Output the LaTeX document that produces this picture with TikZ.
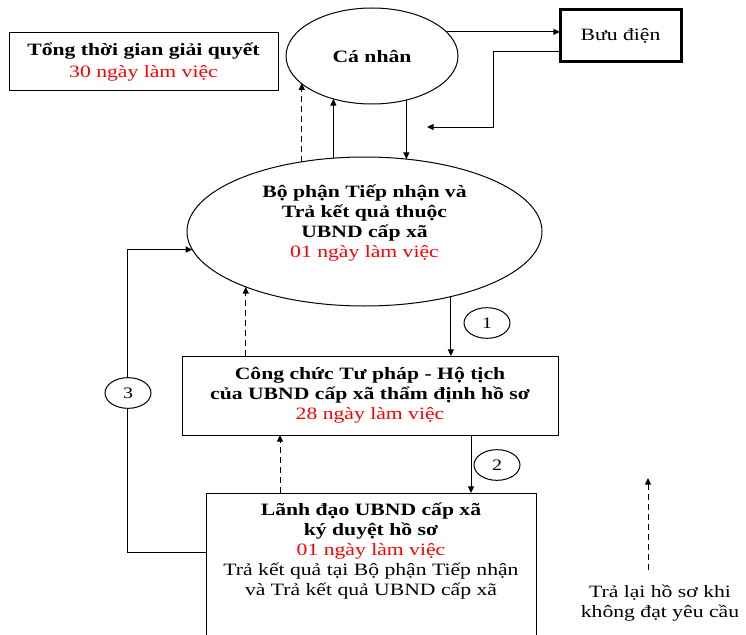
\documentclass[tikz,border=0pt]{standalone}
\usepackage{fontspec}
\setmainfont{Liberation Serif}[FakeStretch=1.25]
\usetikzlibrary{shapes.geometric,arrows.meta,calc}
\tikzset{
  base/.style={draw, line width=0.75pt, outer sep=0pt, inner sep=0pt, align=center, font=\fontsize{13}{15}\selectfont},
  boxr/.style={base, rectangle},
  ell/.style={base, ellipse},
  lbl/.style={align=center, inner sep=0pt, font=\fontsize{13}{15}\selectfont},
  num/.style={base, ellipse, fill=white, font=\fontsize{12}{14}\selectfont, minimum width=34.5pt, minimum height=23pt},
  conn/.style={line width=0.75pt, -{Triangle[length=5pt,width=4.5pt]}},
  back/.style={conn, dash pattern=on 4.5pt off 3pt},
  plain/.style={line width=0.75pt}
}
\begin{document}
\begin{tikzpicture}[x=0.75pt,y=-0.75pt]
\useasboundingbox (0,0) rectangle (746,635);
\clip (0,0) rectangle (746,635);
\fill[white] (0,0) rectangle (746,635);

% nodes
\node[boxr, minimum width=201.75pt, minimum height=43.5pt] (tong) at (143.5,62)
  {\textbf{Tổng thời gian giải quyết}\\[1pt]\textcolor{red}{30 ngày làm việc}};
\node[ell, minimum width=129pt, minimum height=72pt] (cn) at (372,56) {\textbf{Cá nhân}};
\node[boxr, line width=2.25pt, minimum width=90.75pt, minimum height=39pt] (bd) at (620.5,36) {Bưu điện};
\node[ell, minimum width=266.25pt, minimum height=111.75pt] (bp) at (364.5,231.5) {};
\node[lbl] (bpt) at (364.5,223) {\textbf{Bộ phận Tiếp nhận và}\\\textbf{Trả kết quả thuộc}\\\textbf{UBND cấp xã}\\\textcolor{red}{01 ngày làm việc}};
\node[boxr, minimum width=282pt, minimum height=59.25pt] (cs) at (370,395.5)
  {\textbf{Công chức Tư pháp - Hộ tịch}\\\textbf{của UBND cấp xã thẩm định hồ sơ}\\\textcolor{red}{28 ngày làm việc}};
\node[boxr, minimum width=247.5pt, minimum height=117.75pt] (ld) at (371,571.5) {};
\node[lbl] (ldt) at (371,551) {\textbf{Lãnh đạo UBND cấp xã}\\\textbf{ký duyệt hồ sơ}\\\textcolor{red}{01 ngày làm việc}\\Trả kết quả tại Bộ phận Tiếp nhận\\và Trả kết quả UBND cấp xã};

% connectors top
\draw[conn] (cn.18.8) -- (cn.18.8 -| bd.west);
\coordinate (ret) at (427,127);
\draw[conn] ($(bd.south west)+(0,-10)$) -- ++(-67,0) |- (ret);
\draw[back] (bp.132.9) -- (bp.132.9 |- cn.-159.9);
\draw[conn] (bp.113.25) -- (bp.113.25 |- cn.-132.3);
\draw[conn] (cn.-52.4) -- (cn.-52.4 |- bp.60.2);

% ellipse to box
\draw[conn] (bp.-37) -- (bp.-37 |- cs.north);
\draw[back] (cs.north -| bp.-155.6) -- (bp.-155.6);
\node[num] (c1) at (487,323) {1};

% box to bottom box
\draw[conn] (cs.south -| 471,0) -- (ld.north -| 471,0);
\draw[back] (ld.north -| 280,0) -- (cs.south -| 280,0);
\node[num] (c2) at (497,465) {2};

% loop 3
\draw[conn] (ld.west |- 0,552) -- ++(-79,0) |- (bp.-174.9);
\node[num] (c3) at (128,393) {3};

% legend
\coordinate (lg1) at (648,570);
\coordinate (lg2) at (648,478);
\draw[back] (lg1) -- (lg2);
\node[lbl] (lgt) at (660,603) {Trả lại hồ sơ khi\\không đạt yêu cầu};
\end{tikzpicture}
\end{document}
